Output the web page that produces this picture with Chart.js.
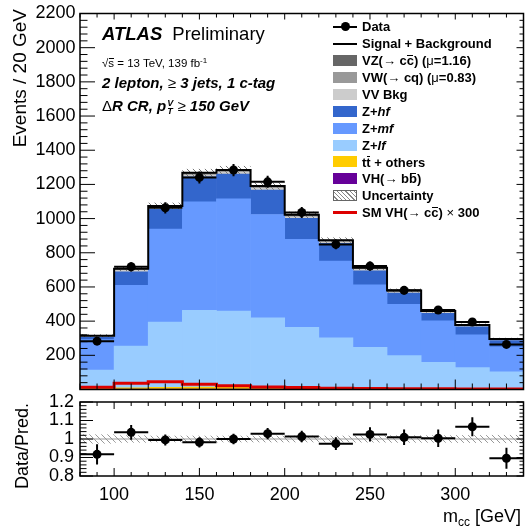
<!DOCTYPE html>
<html>
<head>
<meta charset="utf-8">
<script src="https://cdn.jsdelivr.net/npm/chart.js@4.4.1/dist/chart.umd.min.js"></script>
<style>
  body { margin: 0; background: #fff; }
  #wrap { position: relative; width: 528px; height: 528px; overflow: hidden;
          font-family: "Liberation Sans", Arial, sans-serif; color: #000; }
  #mainCanvas { position: absolute; left: 0; top: 0; }
  #ratioCanvas { position: absolute; left: 0; top: 387px; }
  .txt { position: absolute; white-space: nowrap; line-height: 1; }
  .bi { font-weight: bold; font-style: italic; }
  .rg { font-weight: normal; font-style: normal; }
  .ov { position: relative; }
  .ov::after { content: ''; position: absolute; left: 0.05em; right: 0.05em; top: 0.14em;
               border-top: 1px solid #000; }
  .leg { position: absolute; left: 362px; font-size: 13px; font-weight: bold; }
  .box { position: absolute; left: 333px; width: 24px; height: 11px; }
  .ss { display: inline-block; vertical-align: -3px; line-height: 0.85; font-size: 9px; margin-left: 1px; }
  .ss span { display: block; }
</style>
</head>
<body>
<div id="wrap">
  <canvas id="mainCanvas" width="528" height="403"></canvas>
  <canvas id="ratioCanvas" width="528" height="141"></canvas>

  <div class="txt" style="left:102px; top:25px; font-size:18.5px;"><span class="bi">ATLAS</span><span style="margin-left:10px;">Preliminary</span></div>
  <div class="txt" style="left:102px; top:56.5px; font-size:11.5px;">&radic;<span class="ov">s</span> = 13 TeV, 139 fb<sup style="font-size:8px; vertical-align:4px;">-1</sup></div>
  <div class="txt bi" style="left:102px; top:75px; font-size:15px;">2 lepton, <span class="rg">&ge;</span> 3 jets, 1 c-tag</div>
  <div class="txt bi" style="left:102px; top:98px; font-size:15px;"><span class="rg">&Delta;</span>R CR, p<span class="ss"><span>V</span><span>T</span></span> <span class="rg">&ge;</span> 150 GeV</div>
  <div id="legend"></div>
</div>

<script>
// m_cc binning (GeV) and axis tick labels
const binEdges = [80, 100, 120, 140, 160, 180, 200, 220, 240, 260, 280, 300, 320, 340];
const massTicks = [100, 150, 200, 250, 300];
const eventTicks = [200, 400, 600, 800, 1000, 1200, 1400, 1600, 1800, 2000, 2200];
const ratioTicks = [0.8, 0.9, 1, 1.1, 1.2];

// background / signal yields per bin (events / 20 GeV)
const vhbb  = [1, 2, 2, 3, 3, 2, 2, 2, 1, 1, 1, 1, 1];
const ttbar = [5, 8, 10, 11, 11, 10, 9, 8, 7, 6, 5, 5, 4];
const zlf   = [108, 244, 383, 449, 445, 408, 353, 293, 239, 191, 153, 122, 99];
const zmf   = [178, 355, 544, 635, 657, 604, 514, 448, 366, 300, 243, 192, 146];
const zhf   = [15, 80, 115, 146, 144, 143, 123, 104, 82, 66, 44, 47, 36];
const vvBkg = [4, 9, 9, 11, 11, 10, 10, 9, 8, 7, 6, 5, 5];
const vwcq  = [2, 4, 5, 6, 6, 6, 5, 5, 4, 4, 3, 3, 2];
const vzcc  = [2, 5, 6, 7, 8, 7, 6, 5, 5, 4, 4, 3, 3];
const vhccX300 = [13, 36, 46, 30, 22, 15, 11, 8, 6, 5, 4, 3, 3];
const predUnc  = [0.025, 0.02, 0.018, 0.018, 0.018, 0.018, 0.018, 0.018, 0.019, 0.02, 0.02, 0.021, 0.022];

// observed data
const dataEvents = [283, 718, 1063, 1241, 1284, 1215, 1036, 849, 722, 580, 465, 395, 264];
const dataErr    = [17, 27, 33, 35, 36, 35, 32, 29, 27, 24, 22, 20, 16];
const ratioVals  = [0.917, 1.036, 0.995, 0.982, 1.0, 1.029, 1.013, 0.975, 1.025, 1.009, 1.004, 1.066, 0.896];
const ratioErr   = [0.055, 0.04, 0.03, 0.028, 0.028, 0.03, 0.031, 0.034, 0.038, 0.042, 0.047, 0.051, 0.057];

Chart.defaults.font.family = "'Liberation Sans', Arial, sans-serif";
Chart.defaults.color = '#000';

const centers = binEdges.slice(0, -1).map((e, i) => (e + binEdges[i + 1]) / 2);
const stack = [
  {label: 'VH(→ bb)', vals: vhbb, color: '#660099'},
  {label: 'tt + others', vals: ttbar, color: '#ffcc00'},
  {label: 'Z+lf', vals: zlf, color: '#99ccff'},
  {label: 'Z+mf', vals: zmf, color: '#6699ff'},
  {label: 'Z+hf', vals: zhf, color: '#3366cc'},
  {label: 'VV Bkg', vals: vvBkg, color: '#cccccc'},
  {label: 'VW(→ cq)', vals: vwcq, color: '#999999'},
  {label: 'VZ(→ cc)', vals: vzcc, color: '#666666'}
];
const totalPred = centers.map((_, i) => stack.reduce((s, c) => s + c.vals[i], 0));

// histogram outline: one point per lower bin edge, last value repeated at the upper edge
function stepPoints(vals) {
  const pts = vals.map((v, i) => ({x: binEdges[i], y: v}));
  pts.push({x: binEdges[binEdges.length - 1], y: vals[vals.length - 1]});
  return pts;
}

function makeHatch(color) {
  const c = document.createElement('canvas');
  c.width = 6; c.height = 6;
  const g = c.getContext('2d');
  g.strokeStyle = color;
  g.lineWidth = 1;
  g.beginPath();
  for (let x0 = -6; x0 <= 6; x0 += 6) {
    g.moveTo(x0, 0);
    g.lineTo(x0 + 6, 6);
  }
  g.stroke();
  return g.createPattern(c, 'repeat');
}

// frame, inward ticks on all four sides, and the rotated y title
const frameTicks = {
  id: 'frameTicks',
  afterDraw(chart, args, o) {
    const {ctx, chartArea: a} = chart;
    const x = chart.scales.x, y = chart.scales.y;
    ctx.save();
    ctx.strokeStyle = '#000';
    ctx.lineWidth = 1;
    ctx.beginPath();
    const nx = Math.round((x.max - x.min) / o.xMinor);
    for (let i = 0; i <= nx; i++) {
      const v = x.min + i * o.xMinor;
      const major = Math.abs(v / o.xMajor - Math.round(v / o.xMajor)) < 1e-6;
      const px = x.getPixelForValue(v);
      ctx.moveTo(px, a.bottom); ctx.lineTo(px, a.bottom - (major ? o.bottom[0] : o.bottom[1]));
      ctx.moveTo(px, a.top); ctx.lineTo(px, a.top + (major ? o.top[0] : o.top[1]));
    }
    const ny = Math.round((y.max - y.min) / o.yMinor);
    for (let i = 0; i <= ny; i++) {
      const v = y.min + i * o.yMinor;
      const major = Math.abs(v / o.yMajor - Math.round(v / o.yMajor)) < 1e-6;
      const py = y.getPixelForValue(v);
      ctx.moveTo(a.left, py); ctx.lineTo(a.left + (major ? o.left[0] : o.left[1]), py);
      ctx.moveTo(a.right, py); ctx.lineTo(a.right - (major ? o.right[0] : o.right[1]), py);
    }
    ctx.stroke();
    ctx.lineWidth = 1.5;
    ctx.strokeRect(a.left, a.top, a.right - a.left, a.bottom - a.top);

    ctx.translate(o.titleX, o.titleY);
    ctx.rotate(-Math.PI / 2);
    ctx.font = o.titleFont;
    ctx.fillStyle = '#000';
    ctx.textAlign = 'right';
    ctx.textBaseline = 'alphabetic';
    ctx.fillText(o.title, 0, 0);
    ctx.restore();
  }
};

// data points: bin-wide horizontal bars and statistical error bars
const errorBars = {
  id: 'errorBars',
  afterDatasetDraw(chart, args) {
    const ds = chart.data.datasets[args.index];
    if (!ds.yErr) return;
    const {ctx} = chart;
    const x = chart.scales.x, y = chart.scales.y;
    ctx.save();
    ctx.strokeStyle = '#000';
    ctx.lineWidth = 2;
    ctx.beginPath();
    ds.data.forEach((p, i) => {
      const py = y.getPixelForValue(p.y);
      ctx.moveTo(x.getPixelForValue(binEdges[i]), py);
      ctx.lineTo(x.getPixelForValue(binEdges[i + 1]), py);
      const px = x.getPixelForValue(p.x);
      ctx.moveTo(px, y.getPixelForValue(p.y - ds.yErr[i]));
      ctx.lineTo(px, y.getPixelForValue(p.y + ds.yErr[i]));
    });
    ctx.stroke();
    ctx.restore();
  }
};

// hatched prediction uncertainty, drawn under the Signal + Background outline
const mainHatch = makeHatch('#777777');
const uncBand = {
  id: 'uncBand',
  beforeDatasetDraw(chart, args) {
    if (chart.data.datasets[args.index].label !== 'Signal + Background') return;
    const {ctx} = chart;
    const x = chart.scales.x, y = chart.scales.y;
    ctx.save();
    ctx.fillStyle = mainHatch;
    totalPred.forEach((t, i) => {
      const x0 = x.getPixelForValue(binEdges[i]);
      const x1 = x.getPixelForValue(binEdges[i + 1]);
      const y0 = y.getPixelForValue(t * (1 + predUnc[i]));
      const y1 = y.getPixelForValue(t * (1 - predUnc[i]));
      ctx.fillRect(x0, y0, x1 - x0, y1 - y0);
    });
    ctx.restore();
  }
};

const fixedWidth = w => scale => { scale.width = w; };
const tickFont = {size: 18, lineHeight: 1};

new Chart(document.getElementById('mainCanvas'), {
  type: 'bar',
  data: {
    datasets: [
      {type: 'scatter', label: 'Data', order: 0,
       data: centers.map((c, i) => ({x: c, y: dataEvents[i]})), yErr: dataErr,
       pointRadius: 4.5, pointBackgroundColor: '#000', pointBorderWidth: 0, stack: 'data'},
      {type: 'line', label: 'Signal + Background', order: 1, data: stepPoints(totalPred),
       stepped: 'before', borderColor: '#000', borderWidth: 2, pointRadius: 0, fill: false, stack: 'sb'},
      {type: 'line', label: 'SM VH(→ cc) × 300', order: 2, data: stepPoints(vhccX300),
       stepped: 'before', borderColor: '#dd0000', borderWidth: 3, pointRadius: 0, fill: false, stack: 'sig'}
    ].concat(stack.map(c => ({
      label: c.label, order: 10,
      data: centers.map((x, i) => ({x: x, y: c.vals[i]})),
      backgroundColor: c.color, borderWidth: 0,
      barPercentage: 1, categoryPercentage: 1, stack: 'bkg'
    })))
  },
  options: {
    responsive: false,
    animation: false,
    events: [],
    layout: {padding: {top: 13, right: 0.5, bottom: 0, left: 0}},
    scales: {
      x: {type: 'linear', min: 80, max: 340, offset: false, stacked: true, display: false,
          afterBuildTicks: s => { s.ticks = binEdges.map(v => ({value: v})); }},
      y: {min: 0, max: 2200, stacked: true,
          grid: {display: false, drawTicks: false}, border: {display: false},
          afterBuildTicks: s => { s.ticks = eventTicks.map(v => ({value: v})); },
          afterFit: fixedWidth(80),
          ticks: {font: tickFont, padding: 4.5, color: '#000', autoSkip: false, callback: v => String(v)}}
    },
    plugins: {
      legend: {display: false},
      tooltip: {enabled: false},
      frameTicks: {xMinor: 10, xMajor: 50, yMinor: 40, yMajor: 200,
                   bottom: [10, 6], top: [6, 4], left: [15, 7.5], right: [7, 4],
                   title: 'Events / 20 GeV', titleFont: '19px "Liberation Sans", Arial, sans-serif',
                   titleX: 26, titleY: 9}
    }
  },
  plugins: [frameTicks, errorBars, uncBand]
});

// ratio panel: unit line and relative uncertainty
const ratioHatch = makeHatch('#999999');
const ratioBand = {
  id: 'ratioBand',
  beforeDatasetsDraw(chart) {
    const {ctx, chartArea: a} = chart;
    const x = chart.scales.x, y = chart.scales.y;
    ctx.save();
    ctx.fillStyle = ratioHatch;
    predUnc.forEach((u, i) => {
      const x0 = x.getPixelForValue(binEdges[i]);
      const x1 = x.getPixelForValue(binEdges[i + 1]);
      const y0 = y.getPixelForValue(1 + u);
      const y1 = y.getPixelForValue(1 - u);
      ctx.fillRect(x0, y0, x1 - x0, y1 - y0);
    });
    ctx.strokeStyle = '#999999';
    ctx.lineWidth = 1;
    ctx.beginPath();
    const py = y.getPixelForValue(1);
    ctx.moveTo(a.left, py); ctx.lineTo(a.right, py);
    ctx.stroke();
    ctx.restore();
  },
  afterDraw(chart) {
    // axis title with subscript
    const {ctx} = chart;
    ctx.save();
    ctx.fillStyle = '#000';
    ctx.textBaseline = 'alphabetic';
    const big = '18px "Liberation Sans", Arial, sans-serif';
    const small = '12px "Liberation Sans", Arial, sans-serif';
    ctx.font = big;
    const wm = ctx.measureText('m').width;
    const wr = ctx.measureText(' [GeV]').width;
    ctx.font = small;
    const wc = ctx.measureText('cc').width;
    const right = 521, base = 135;
    let xx = right - wm - wc - wr;
    ctx.font = big; ctx.fillText('m', xx, base); xx += wm;
    ctx.font = small; ctx.fillText('cc', xx, base + 4); xx += wc;
    ctx.font = big; ctx.fillText(' [GeV]', xx, base);
    ctx.restore();
  }
};

new Chart(document.getElementById('ratioCanvas'), {
  type: 'scatter',
  data: {
    datasets: [{
      label: 'Data/Pred.',
      data: centers.map((c, i) => ({x: c, y: ratioVals[i]})), yErr: ratioErr,
      pointRadius: 4.5, pointBackgroundColor: '#000', pointBorderWidth: 0
    }]
  },
  options: {
    responsive: false,
    animation: false,
    events: [],
    layout: {padding: {top: 15, right: 0.5, bottom: 0, left: 0}},
    scales: {
      x: {type: 'linear', min: 80, max: 340,
          grid: {display: false, drawTicks: false}, border: {display: false},
          afterBuildTicks: s => { s.ticks = massTicks.map(v => ({value: v})); },
          afterFit: s => { s.height = 52; },
          ticks: {font: tickFont, padding: 10, maxRotation: 0, autoSkip: false, color: '#000'}},
      y: {min: 0.8, max: 1.2,
          grid: {display: false, drawTicks: false}, border: {display: false},
          afterBuildTicks: s => { s.ticks = ratioTicks.map(v => ({value: v})); },
          afterFit: fixedWidth(80),
          ticks: {font: tickFont, padding: 6, color: '#000', autoSkip: false, callback: v => String(v)}}
    },
    plugins: {
      legend: {display: false},
      tooltip: {enabled: false},
      frameTicks: {xMinor: 10, xMajor: 50, yMinor: 0.02, yMajor: 0.1,
                   bottom: [8, 4], top: [7, 4], left: [13, 6.5], right: [7, 4],
                   title: 'Data/Pred.', titleFont: '18px "Liberation Sans", Arial, sans-serif',
                   titleX: 27.5, titleY: 16}
    }
  },
  plugins: [frameTicks, errorBars, ratioBand]
});

// legend
const legendRows = [
  {html: 'Data', sym: 'data'},
  {html: 'Signal + Background', sym: 'line', color: '#000', w: 2},
  {html: 'VZ(<span class="rg">&rarr;</span> c<span class="ov">c</span>) (<span class="rg">&mu;</span>=1.16)', sym: 'box', color: '#666666'},
  {html: 'VW(<span class="rg">&rarr;</span> cq) (<span class="rg">&mu;</span>=0.83)', sym: 'box', color: '#999999'},
  {html: 'VV Bkg', sym: 'box', color: '#cccccc'},
  {html: 'Z+<i>hf</i>', sym: 'box', color: '#3366cc'},
  {html: 'Z+<i>mf</i>', sym: 'box', color: '#6699ff'},
  {html: 'Z+<i>lf</i>', sym: 'box', color: '#99ccff'},
  {html: 't<span class="ov">t</span> + others', sym: 'box', color: '#ffcc00'},
  {html: 'VH(<span class="rg">&rarr;</span> b<span class="ov">b</span>)', sym: 'box', color: '#660099'},
  {html: 'Uncertainty', sym: 'hatch'},
  {html: 'SM VH(<span class="rg">&rarr;</span> c<span class="ov">c</span>) <span class="rg">&times;</span> 300', sym: 'line', color: '#dd0000', w: 3}
];
const legendEl = document.getElementById('legend');
legendRows.forEach((r, i) => {
  const cy = 26.7 + i * 16.9;
  let sym = '';
  if (r.sym === 'box') {
    sym = `<div class="box" style="top:${cy - 5.5}px; background:${r.color};"></div>`;
  } else if (r.sym === 'hatch') {
    sym = `<div class="box" style="top:${cy - 5.5}px; box-sizing:border-box; border:1px solid #666;
           background:repeating-linear-gradient(45deg, #fff 0 2px, #888 2px 3px);"></div>`;
  } else if (r.sym === 'line') {
    sym = `<div style="position:absolute; left:333px; width:24px; top:${cy - r.w / 2}px; height:${r.w}px; background:${r.color};"></div>`;
  } else {
    sym = `<div style="position:absolute; left:333px; width:24px; top:${cy - 1}px; height:2px; background:#000;"></div>
           <div style="position:absolute; left:${345 - 4.5}px; top:${cy - 4.5}px; width:9px; height:9px; border-radius:50%; background:#000;"></div>`;
  }
  legendEl.insertAdjacentHTML('beforeend',
    sym + `<div class="txt leg" style="top:${cy - 6.4}px;">${r.html}</div>`);
});
</script>
</body>
</html>
